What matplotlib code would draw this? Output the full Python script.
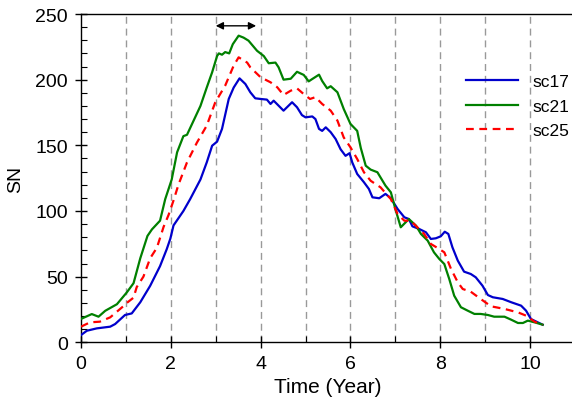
import numpy as np
import matplotlib
matplotlib.use('Agg')
import matplotlib.pyplot as plt
from matplotlib.ticker import MultipleLocator

plt.rcParams['font.family'] = ['Liberation Sans', 'DejaVu Sans']

# sc17 (blue)
x_sc17 = [0, 0.13, 0.35, 0.65, 0.76, 0.98, 1.13, 1.32, 1.54, 1.76, 1.91, 1.99, 2.06,
          2.28, 2.43, 2.66, 2.8, 2.92, 3.03, 3.14, 3.29, 3.4, 3.53, 3.66, 3.77, 3.88,
          4.0, 4.14, 4.22, 4.29, 4.4, 4.51, 4.7, 4.81, 4.92, 5.0, 5.15, 5.22, 5.3,
          5.37, 5.45, 5.56, 5.67, 5.78, 5.89, 5.98, 6.04, 6.15, 6.3, 6.41, 6.49, 6.64,
          6.78, 6.9, 7.05, 7.2, 7.3, 7.38, 7.53, 7.68, 7.79, 7.9, 8.01, 8.1, 8.18,
          8.27, 8.39, 8.53, 8.68, 8.79, 8.94, 9.06, 9.17, 9.39, 9.58, 9.8, 9.91,
          10.02, 10.28]
y_sc17 = [5.5, 8.8, 10.6, 11.9, 13.9, 20.8, 22, 30.5, 43, 58, 71, 79, 89,
          100, 109, 124, 137, 149.7, 152.8, 162.5, 185.3, 194, 201, 196.7, 190.4, 185.8,
          185.3, 184.8, 181.5, 184, 180.2, 176.4, 182.8, 179, 173, 171.3, 172, 170, 162.5,
          161, 163.7, 160, 154.8, 147, 142, 144, 137, 128.2, 121.9, 116.8, 110.4, 109.7,
          113, 109.7, 101.5, 95.2, 93.9, 88.3, 86.3, 83.8, 78.7, 79.2, 80.7, 84.2, 82.5,
          72.4, 62.2, 53.8, 52, 49.5, 43.1, 36, 34.3, 33, 30.5, 27.9, 24.1,
          17.7, 13.4]

# sc21 (green)
x_sc21 = [0, 0.24, 0.39, 0.54, 0.8, 1.02, 1.17, 1.32, 1.48, 1.58, 1.76, 1.875, 2.02,
          2.14, 2.28, 2.36, 2.51, 2.66, 2.8, 2.92, 3.03, 3.07, 3.14, 3.21, 3.3, 3.38,
          3.51, 3.62, 3.73, 3.92, 4.07, 4.18, 4.33, 4.4, 4.51, 4.67, 4.81, 4.96, 5.07,
          5.15, 5.3, 5.37, 5.48, 5.56, 5.71, 5.85, 6.0, 6.15, 6.23, 6.34, 6.45, 6.6,
          6.78, 6.9, 7.0, 7.12, 7.23, 7.3, 7.46, 7.57, 7.72, 7.86, 7.98, 8.09, 8.2,
          8.31, 8.46, 8.61, 8.76, 8.9, 9.06, 9.2, 9.43, 9.58, 9.73, 9.84, 9.95, 10.1,
          10.28]
y_sc21 = [17.8, 21.5, 19.5, 24, 29, 38, 45, 64, 81, 86, 92.6, 109, 124,
          144.7, 157, 158, 169, 180, 194, 205.6, 218, 220, 219, 221, 220, 227,
          233.5, 232, 229.7, 222, 218, 212.5, 213, 209.4, 200, 200.7, 206, 203.6, 198.7,
          200.5, 203.8, 199, 193.4, 195, 190.4, 177.7, 166.3, 161, 148, 134.5, 131.5, 129.5,
          119.3, 114.2, 101.5, 87.6, 91.4, 93.9, 88.8, 82.5, 77.4, 68.5, 63.4, 59.6, 48.2,
          35.5, 26.7, 24.1, 21.6, 21.6, 20.8, 19.5, 19.5, 17.2, 14.7, 14.7, 16.5, 15.2,
          13.4]

# sc25 (red, dashed)
x_sc25 = [0, 0.2, 0.42, 0.65, 0.94, 1.02, 1.17, 1.24, 1.39, 1.54, 1.69, 1.84, 1.95,
          2.06, 2.17, 2.36, 2.58, 2.8, 2.99, 3.21, 3.4, 3.51, 3.7, 3.77, 4.0, 4.22,
          4.37, 4.51, 4.67, 4.81, 4.96, 5.1, 5.22, 5.37, 5.56, 5.71, 5.85, 6.0, 6.15,
          6.3, 6.45, 6.67, 6.9, 7.05, 7.2, 7.34, 7.49, 7.64, 7.79, 7.98, 8.09, 8.24,
          8.39, 8.5, 8.68, 8.9, 9.13, 9.43, 9.73, 9.91, 10.1, 10.28]
y_sc25 = [11.9, 15.2, 15.7, 19, 27.4, 30, 34, 42, 50, 64, 72, 88, 97,
          108, 120, 137, 152, 165, 182.8, 195.4, 210.7, 217, 213, 209.4, 201.8, 198,
          194.2, 188.3, 191.6, 193.4, 189, 185.3, 186.7, 181.5, 176.4, 168.8, 156, 148.5, 139.6,
          129.5, 123, 118, 109, 97.7, 92.6, 92.6, 87.6, 82.5, 74.9, 71, 68.5, 55.8,
          45.7, 40.6, 38.5, 33, 27.4, 25.4, 22.8, 20.3, 15.7, 13.4]

year_marks = np.arange(1, 11)
arrow_x = (3.0, 3.9)
arrow_y = 241

fig = plt.figure(figsize=(5.72, 4.06), dpi=100)
ax = fig.add_axes([81 / 572, 1 - 343.3 / 406, 494 / 572, 328.3 / 406])

# dashed markers at every year
for xm in year_marks:
    ax.axvline(xm, color='#999999', lw=1, dashes=(5, 3.5), zorder=1)

ax.plot(x_sc17, y_sc17, color='#0000cc', lw=1.6, label='sc17', zorder=3)
ax.plot(x_sc21, y_sc21, color='#008000', lw=1.6, label='sc21', zorder=3)
ax.plot(x_sc25, y_sc25, color='#ff0000', lw=1.6, dashes=(3.5, 2.5), label='sc25', zorder=4)

ax.annotate('', xy=(arrow_x[0], arrow_y), xytext=(arrow_x[1], arrow_y),
            arrowprops=dict(arrowstyle='<|-|>', color='black', lw=1,
                            mutation_scale=11, shrinkA=0, shrinkB=0))

ax.set_xlim(0, 11)
ax.set_ylim(0, 250)
ax.xaxis.set_major_locator(MultipleLocator(2))
ax.xaxis.set_minor_locator(MultipleLocator(1))
ax.yaxis.set_major_locator(MultipleLocator(50))
ax.yaxis.set_minor_locator(MultipleLocator(10))
ax.tick_params(which='major', direction='inout', length=9, width=1, labelsize=14, pad=5)
ax.tick_params(which='minor', direction='in', length=4, width=0.8)
ax.spines['right'].set_visible(False)
for sp in ax.spines.values():
    sp.set_linewidth(1)

ax.set_xlabel('Time (Year)', fontsize=15, labelpad=3)
ax.set_ylabel('SN', fontsize=14, labelpad=8)

ax.legend(loc='upper right', bbox_to_anchor=(1.02, 0.864), frameon=False, fontsize=12.5,
          handlelength=3.0, handletextpad=0.8, labelspacing=0.52)

fig.savefig('out.png', dpi=100)
